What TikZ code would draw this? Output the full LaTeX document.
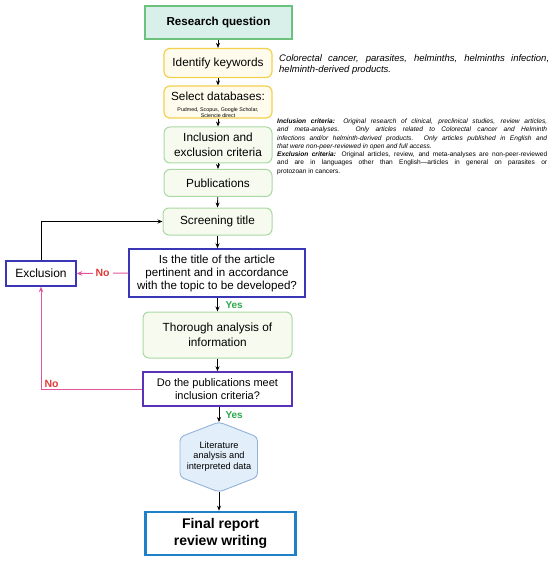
\documentclass[tikz,border=0pt]{standalone}
\usepackage{fontspec}
\setmainfont{Liberation Sans}
\usetikzlibrary{arrows.meta}
\definecolor{rqfill}{HTML}{D8EFEA}
\definecolor{rqdraw}{HTML}{6CC27C}
\definecolor{ydraw}{HTML}{F3D04E}
\definecolor{yfill}{HTML}{FFFCEE}
\definecolor{gdraw}{HTML}{A9D9A2}
\definecolor{gfill}{HTML}{F7FAEF}
\definecolor{qdraw}{HTML}{3A36B6}
\definecolor{qdrawb}{HTML}{5A32B8}
\definecolor{hexfill}{HTML}{E2EEF9}
\definecolor{hexdraw}{HTML}{92B2DA}
\definecolor{findraw}{HTML}{1E80C6}
\definecolor{pinkline}{HTML}{E2549E}
\definecolor{nored}{HTML}{E23B3B}
\definecolor{yesgreen}{HTML}{2BA84B}
\tikzset{
  base/.style={draw, align=center, inner sep=0pt},
  rqbox/.style={base, fill=rqfill, draw=rqdraw, line width=1.3pt, minimum width=147pt, minimum height=33pt, font=\bfseries\fontsize{11.6}{13}\selectfont},
  ybox/.style={base, fill=yfill, draw=ydraw, line width=1.2pt, rounded corners=6pt, minimum width=108pt, font=\fontsize{11.8}{15}\selectfont},
  gbox/.style={base, fill=gfill, draw=gdraw, line width=1pt, rounded corners=6pt, font=\fontsize{11.8}{15}\selectfont},
  qbox/.style={base, fill=white, draw=qdraw, line width=1.4pt, font=\fontsize{11}{13}\selectfont},
  arr/.style={-{Stealth[length=5pt,width=4pt]}, line width=0.8pt, black},
  parr/.style={-{Stealth[length=5.5pt,width=4.5pt]}, line width=1pt, pinkline},
  nolab/.style={text=nored, font=\bfseries\fontsize{10.5}{12}\selectfont},
  yeslab/.style={text=yesgreen, font=\bfseries\fontsize{10}{12}\selectfont, anchor=west},
}
\begin{document}
\begin{tikzpicture}[x=1pt,y=-1pt]
\useasboundingbox (0,0) rectangle (550,561);
\node[rqbox] (rq) at (218.5,22.5) {Research question};
\node[ybox, minimum height=29pt] (kw) at (218,63) {Identify keywords};
\node[ybox, minimum height=32pt, text depth=0pt] (db) at (218,102) {Select databases:\\[-4pt]\parbox[t]{104pt}{\centering\fontsize{5.3}{5.5}\selectfont Pudmed, Scopus, Google Scholar,\\Sciencie direct}};
\node[gbox, minimum width=108pt, minimum height=36pt] (ie) at (218,145) {Inclusion and\\exclusion criteria};
\node[gbox, minimum width=108pt, minimum height=27pt] (pub) at (218,183) {Publications};
\node[gbox, minimum width=109pt, minimum height=27pt] (st) at (217.5,221.5) {Screening title};
\node[qbox, minimum width=176pt, minimum height=48pt, font=\fontsize{11.6}{13}\selectfont] (q1) at (217,273) {Is the title of the article\\pertinent and in accordance\\with the topic to be developed?};
\node[qbox, minimum width=70pt, minimum height=25pt, font=\fontsize{12}{13}\selectfont] (ex) at (41,273.5) {Exclusion};
\node[gbox, minimum width=149pt, minimum height=46pt, font=\fontsize{11.8}{15}\selectfont] (th) at (217.5,335) {Thorough analysis of\\information};
\node[qbox, draw=qdrawb, minimum width=149pt, minimum height=34pt, font=\fontsize{11}{13}\selectfont] (q2) at (217.5,389) {Do the publications meet\\inclusion criteria?};
\draw[fill=hexfill, draw=hexdraw, line width=0.9pt, rounded corners=4pt]
  (219,422) -- (257.5,437) -- (257.5,477) -- (219,492) -- (180,477) -- (180,437) -- cycle;
\node[align=center, inner sep=0pt, font=\fontsize{9.2}{10.7}\selectfont] (hex) at (219,456.5) {Literature\\analysis and\\interpreted data};
\coordinate (hextop) at (219,422);
\coordinate (hexbot) at (219,492);
\node[base, fill=white, draw=findraw, line width=2.6pt, minimum width=150pt, minimum height=43pt, font=\bfseries\fontsize{14}{17}\selectfont] (fin) at (220.5,533.5) {Final report\\review writing};

\draw[arr] (rq.south -| kw) -- (kw.north);
\draw[arr] (kw) -- (db.north);
\draw[arr] (db) -- (ie.north);
\draw[arr] (ie) -- (pub.north);
\draw[arr] (pub) -- (st.north);
\draw[arr] (st.south) -- (st.south |- q1.north);
\draw[arr] (q1.south -| th) -- (th.north);
\draw[arr] (th) -- (q2.north);
\draw[arr] (q2.south -| hextop) -- (hextop);
\draw[arr] (hexbot) -- (hexbot |- fin.north);
\draw[arr] (ex.north) |- (st.west);
\draw[parr] (q1.west) -- node[fill=white, inner xsep=3pt, nolab] {No} (ex.east);
\draw[parr] (q2.west) -| (ex.south);
\node[nolab, inner sep=0pt] at (51.5,384) {No};
\node[yeslab] at (222,305) {Yes};
\node[yeslab] at (222,415) {Yes};

\node[anchor=west, text width=270pt, align=justify, inner sep=0pt, font=\itshape\fontsize{9.5}{11.6}\selectfont] (kwt) at (279,64.5) {Colorectal cancer, parasites, helminths, helminths infection, helminth-derived products.};
\node[anchor=north west, text width=270pt, align=justify, inner sep=0pt, font=\fontsize{6.6}{8.3}\selectfont] (crit) at (277,118.5) {\textbf{\itshape Inclusion criteria:} {\itshape Original research of clinical, preclinical studies, review articles,\linebreak and meta-analyses. Only articles related to Colorectal cancer and Helminth\linebreak infections and/or helminth-derived products. Only articles published in English and\linebreak \ that were non-peer-reviewed in open and full access.}\\ \textbf{\itshape Exclusion criteria:} Original articles, review, and meta-analyses are non-peer-reviewed\linebreak and are in languages other than English{\textemdash}articles in general on parasites or\linebreak protozoan in cancers.};
\end{tikzpicture}
\end{document}
